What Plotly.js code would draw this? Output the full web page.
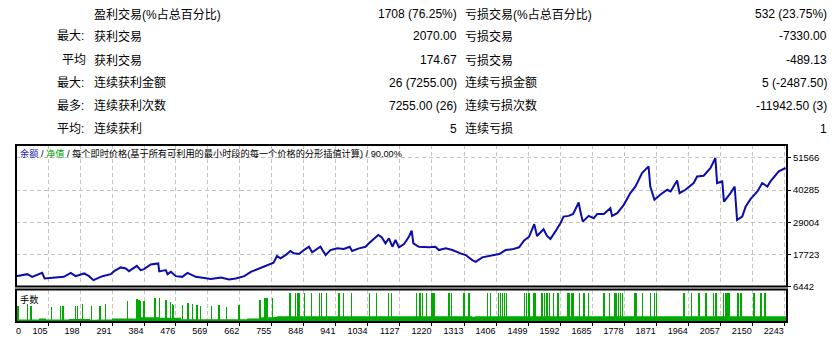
<!DOCTYPE html>
<html><head><meta charset="utf-8">
<script src="https://cdn.plot.ly/plotly-3.0.1.min.js"></script>
<style>html,body{margin:0;padding:0;background:#fff;}#chart{width:839px;height:343px;}</style>
</head><body><div id="chart"></div>
<script>
// ---- balance curve (trade number -> balance) ----
const tradeIdx = [12,45,59,88,95,122,151,171,185,210,224,237,263,287,297,316,331,340,363,374,384,403,425,428,447,452,462,476,495,510,534,549,578,607,631,650,675,694,713,733,760,770,780,795,809,819,834,848,863,872,896,911,925,945,964,981,988,1008,1027,1037,1051,1064,1074,1085,1095,1105,1114,1124,1139,1153,1161,1166,1182,1211,1230,1240,1260,1279,1303,1318,1337,1347,1366,1395,1415,1434,1453,1473,1487,1502,1510,1517,1525,1544,1554,1564,1578,1593,1602,1617,1630,1646,1651,1658,1675,1690,1700,1719,1738,1743,1758,1777,1796,1811,1830,1849,1854,1866,1883,1903,1913,1932,1939,1956,1980,1990,2009,2029,2043,2048,2063,2068,2087,2099,2106,2121,2131,2145,2165,2179,2194,2203,2227,2247];
const balance = [10073,10778,9826,11236,9262,9474,9826,11236,10073,11025,10073,8663,10073,10778,11835,13140,12787,11835,13704,12188,12540,14197,14550,11730,12188,10778,11589,10073,9826,11236,9826,9615,9121,9615,8910,9262,10073,11589,12435,13598,14761,17123,16312,17475,18885,18075,17828,19238,20401,18427,20401,17475,19238,19837,19590,20401,18885,19837,20401,21600,23010,24525,23715,21600,23362,20401,22763,20190,21353,23926,26041,21600,20401,20190,20401,19238,19837,19238,18075,17475,15713,15114,16665,17475,17828,19238,19485,20190,22516,23926,26041,28297,24173,26535,24173,23115,25689,28650,30976,31223,31928,35911,32739,29214,31223,30412,31928,31928,33937,31223,32175,35100,39225,41551,46275,48601,41551,36863,38625,40388,39789,43666,39225,40388,42750,45076,45323,48037,51562,42750,43314,36264,39225,41551,29813,30976,34501,37110,39789,42750,41551,43314,46839,48037];

// ---- lots panel ----
const baseLotIdx = [12,79,99,166,227,247,291,361,430,491,683,724,762,770,1337,1345,2251];
const baseLot    = [0.08,0.11,0.08,0.09,0.07,0.08,0.105,0.145,0.13,0.085,0.11,0.145,0.155,0.18,0.16,0.18,0.18];
const spikeIdx = [18,45,56,115,142,149,185,190,205,231,256,272,335,364,369,374,384,416,428,447,460,466,469,495,512,525,537,547,580,602,624,660,720,733,738,742,757,
  806,809,824,829,834,850,870,893,899,914,950,963,986,1039,1059,1093,1102,1175,1185,1193,1204,1219,1223,1226,1269,1277,1313,1328,1381,1390,1413,1419,1424,1431,1437,1489,1494,1502,1515,1519,1540,1547,1554,1561,1573,1586,1614,1618,1627,1630,1649,1661,1675,1719,1735,1751,1755,1762,1767,1774,1809,1813,1832,1854,1867,1872,1951,1954,1973,1995,2016,2037,2045,2067,2072,2077,2082,2109,2118,2155,2174,2177,2187,2201];
const spikeLot = [0.5,0.55,0.5,0.45,0.5,0.5,0.5,0.5,0.55,0.5,0.48,0.55,0.65,0.7,0.67,0.65,0.65,0.74,0.74,0.67,0.62,0.55,0.52,0.52,0.57,0.54,0.52,0.48,0.48,0.52,0.46,0.52,0.67,0.74,0.74,0.74,0.74,
  0.9,0.9,0.9,0.9,0.9,0.9,0.9,0.9,0.9,0.9,0.9,0.9,0.9,0.9,0.9,0.9,0.9,0.9,0.9,0.9,0.9,0.9,0.9,0.9,0.9,0.9,0.9,0.9,0.9,0.9,0.9,0.9,0.9,0.9,0.9,0.9,0.9,0.9,0.9,0.9,0.9,0.9,0.9,0.9,0.9,0.9,0.9,0.9,0.9,0.9,0.9,0.9,0.9,0.9,0.9,0.9,0.9,0.9,0.9,0.9,0.9,0.9,0.9,0.9,0.9,0.9,0.9,0.9,0.9,0.9,0.9,0.9,0.9,0.9,0.9,0.9,0.9,0.9,0.9,0.9,0.9,0.9,0.9];

// ---- axis ticks ----
const xTickVals = [105,198,291,384,476,569,662,755,848,941,1034,1127,1220,1313,1406,1499,1592,1685,1778,1871,1964,2057,2150,2243];
const xTickText = ["105","198","291","384","476","569","662","755","848","941","1034","1127","1220","1313","1406","1499","1592","1685","1778","1871","1964","2057","2150","2243"];
const xFirstLabel = "0";
const yTickVals = [6442,17723,29004,40285,51566];
const yTickText = ["6442","17723","29004","40285","51566"];

// ---- header table ----
const rowPrefix = ["", "最大:", "平均", "最大:", "最多:", "平均:"];
const rowLabel1 = ["盈利交易(%占总百分比)", "获利交易", "获利交易", "连续获利金额", "连续获利次数", "连续获利"];
const rowValue1 = ["1708 (76.25%)", "2070.00", "174.67", "26 (7255.00)", "7255.00 (26)", "5"];
const rowLabel2 = ["亏损交易(%占总百分比)", "亏损交易", "亏损交易", "连续亏损金额", "连续亏损次数", "连续亏损"];
const rowValue2 = ["532 (23.75%)", "-7330.00", "-489.13", "5 (-2487.50)", "-11942.50 (3)", "1"];
const chartTitle = '<span style="color:#1a1ab4">余额</span> / <span style="color:#00a000">净值</span> / 每个即时价格(基于所有可利用的最小时段的每一个价格的分形插值计算) / 90.00%';
const lotsTitle = "手数";

const FONT = '"Liberation Sans", Arial, "Noto Sans CJK SC", sans-serif';
const L = 16, R = 787, T = 145, B = 322;
const px = x => (x - L) / (R - L);
const py = y => (B - y) / (B - T);

const rowY = [14, 36.5, 60, 82.5, 106, 128.5];
const ann = [];
function A(text, x, y, xa, size) {
  ann.push({text: text, x: px(x), y: py(y), xref: 'paper', yref: 'paper', xanchor: xa, yanchor: 'middle',
    showarrow: false, borderpad: 0, borderwidth: 0, font: {family: FONT, size: size, color: '#000'}});
}
for (let i = 0; i < rowY.length; i++) {
  if (rowPrefix[i]) A(rowPrefix[i], rowPrefix[i].indexOf(':') >= 0 ? 84 : 86, rowY[i], 'right', 12);
  A(rowLabel1[i], 94, rowY[i], 'left', 12);
  A(rowValue1[i], 457, rowY[i], 'right', 12);
  A(rowLabel2[i], 465, rowY[i], 'left', 12);
  A(rowValue2[i], 827, rowY[i], 'right', 12);
}
A(chartTitle, 20, 153.5, 'left', 9.2);
A(lotsTitle, 20, 299, 'left', 9.2);
A(xFirstLabel, 21, 330.5, 'right', 9);

const mainBottom = py(286.5), lotsTop = py(289.5);
const GREEN = '#00aa00';
const traces = [
  {type: 'scatter', mode: 'lines', x: baseLotIdx, y: baseLot, xaxis: 'x', yaxis: 'y2',
   line: {shape: 'hv', width: 0, color: GREEN}, fill: 'tozeroy', fillcolor: GREEN, hoverinfo: 'skip'},
  {type: 'bar', x: spikeIdx, y: spikeLot, xaxis: 'x', yaxis: 'y2', width: 4.2,
   marker: {color: GREEN, line: {width: 0}}, hoverinfo: 'skip'},
  {type: 'scatter', mode: 'lines', x: tradeIdx, y: balance, xaxis: 'x', yaxis: 'y',
   line: {color: '#0c0caa', width: 2}, hoverinfo: 'skip'}
];
const grid = {gridcolor: '#c4c4c4', griddash: '4px,3px', gridwidth: 1};
const layout = {
  width: 839, height: 343,
  margin: {l: L, r: 839 - R, t: T, b: 343 - B, pad: 0},
  paper_bgcolor: '#fff', plot_bgcolor: '#fff', showlegend: false,
  font: {family: FONT, size: 9, color: '#000'},
  bargap: 0,
  xaxis: Object.assign({range: [12, 2251], anchor: 'y2', tickmode: 'array', tickvals: xTickVals, ticktext: xTickText,
    ticks: 'outside', ticklen: 3, tickcolor: '#000', tickwidth: 1, showgrid: true, zeroline: false, showline: false,
    ticklabelposition: 'outside left', tickfont: {family: FONT, size: 9, color: '#000'}}, grid),
  yaxis: Object.assign({domain: [mainBottom, 1], range: [6442, 56109], side: 'right', anchor: 'x', tickmode: 'array',
    tickvals: yTickVals, ticktext: yTickText, ticks: 'outside', ticklen: 3, tickcolor: '#000', showgrid: true,
    zeroline: false, showline: false, tickfont: {family: FONT, size: 9.5, color: '#000'}}, grid),
  yaxis2: {domain: [0, lotsTop], range: [0, 1], anchor: 'x', showticklabels: false, showgrid: false, zeroline: false, ticks: ''},
  shapes: [
    {type: 'rect', xref: 'paper', yref: 'paper', x0: 0, x1: 1, y0: mainBottom, y1: 1, line: {color: '#000', width: 2}, layer: 'above'},
    {type: 'rect', xref: 'paper', yref: 'paper', x0: 0, x1: 1, y0: 0, y1: lotsTop, line: {color: '#000', width: 2}, layer: 'above'}
  ],
  annotations: ann
};
Plotly.newPlot('chart', traces, layout, {staticPlot: true, displayModeBar: false});
</script></body></html>
